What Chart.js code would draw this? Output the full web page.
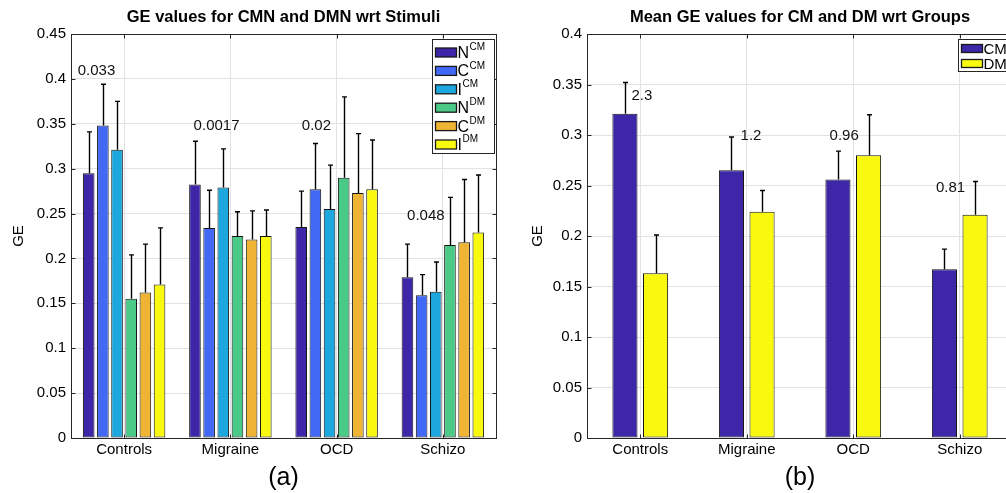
<!DOCTYPE html>
<html><head><meta charset="utf-8">
<script src="https://cdn.jsdelivr.net/npm/chart.js@4.4.1/dist/chart.umd.min.js"></script>
<style>
html,body{margin:0;padding:0;background:#fff;overflow:hidden;width:1006px;height:493px;}
#wa{position:absolute;left:0;top:0;width:500px;height:493px;}
#wb{position:absolute;left:500px;top:0;width:520px;height:493px;}
</style></head><body>
<div id="wa"><canvas id="ca" width="500" height="493"></canvas></div>
<div id="wb"><canvas id="cb" width="520" height="493"></canvas></div>
<script>
// ---------- data ----------
const groups = ['Controls', 'Migraine', 'OCD', 'Schizo'];

// (a) per-stimulus GE values and upper error magnitudes
const nCM = [0.295, 0.2825, 0.235, 0.179];
const cCM = [0.348, 0.234, 0.277, 0.159];
const iCM = [0.321, 0.279, 0.255, 0.163];
const nDM = [0.155, 0.225, 0.290, 0.215];
const cDM = [0.162, 0.221, 0.273, 0.218];
const iDM = [0.171, 0.225, 0.277, 0.229];
const nCMErr = [0.046, 0.048, 0.040, 0.037];
const cCMErr = [0.046, 0.042, 0.051, 0.023];
const iCMErr = [0.054, 0.043, 0.049, 0.033];
const nDMErr = [0.049, 0.027, 0.090, 0.053];
const cDMErr = [0.054, 0.032, 0.066, 0.070];
const iDMErr = [0.063, 0.029, 0.055, 0.064];
const stimMain = ['N', 'C', 'I', 'N', 'C', 'I'];
const stimSup = ['CM', 'CM', 'CM', 'DM', 'DM', 'DM'];
const pValuesA = ['0.033', '0.0017', '0.02', '0.048'];

// (b) mean GE values per group
const cmMean = [0.321, 0.265, 0.256, 0.167];
const dmMean = [0.163, 0.224, 0.280, 0.221];
const cmErr = [0.031, 0.033, 0.028, 0.020];
const dmErr = [0.038, 0.021, 0.040, 0.033];
const meanLabels = ['CM', 'DM'];
const ratiosB = ['2.3', '1.2', '0.96', '0.81'];

// ---------- layout / style (kept apart from data) ----------
const annoPosA = [{dx: -0.26, y: 0.4087}, {dx: -0.13, y: 0.3474}, {dx: -0.19, y: 0.3474}, {dx: -0.16, y: 0.2472}];
const annoPosB = [{dx: 0.016, y: 0.3386}, {dx: 0.04, y: 0.299}, {dx: -0.085, y: 0.299}, {dx: -0.086, y: 0.2478}];
const colorsA = ['#3e26a8', '#4268f6', '#1ca8de', '#4bc987', '#efb433', '#f9f90f'];
const colorsB = ['#3e26a8', '#f9f90f'];
const FONT = "'Liberation Sans', Arial, Helvetica, sans-serif";
const AX = '#262626';

const matlabPlugin = {
  id: 'matlab',
  afterDatasetsDraw(chart, args, opts) {
    const ctx = chart.ctx, ys = chart.scales.y;
    ctx.save();
    ctx.strokeStyle = '#000';
    ctx.lineWidth = 1.4;
    opts.errors.forEach((errs, di) => {
      const meta = chart.getDatasetMeta(di);
      const vals = chart.data.datasets[di].data;
      meta.data.forEach((el, j) => {
        const top = ys.getPixelForValue(vals[j] + errs[j]);
        const px = Math.round(el.x) + 0.5;
        ctx.beginPath();
        ctx.moveTo(px, el.y);
        ctx.lineTo(px, top);
        ctx.moveTo(px - 2.5, top);
        ctx.lineTo(px + 2.5, top);
        ctx.stroke();
      });
    });
    ctx.restore();
  },
  afterDraw(chart, args, opts) {
    const ctx = chart.ctx, a = chart.chartArea, xs = chart.scales.x, ys = chart.scales.y;
    ctx.save();
    // box
    ctx.strokeStyle = AX;
    ctx.lineWidth = 1;
    const L = Math.round(a.left) + 0.5, T = Math.round(a.top) + 0.5;
    const R = Math.round(a.right) + 0.5, B = Math.round(a.bottom) + 0.5;
    ctx.strokeRect(L, T, R - L, B - T);
    // inward ticks
    const tl = 4;
    ctx.beginPath();
    ys.ticks.forEach(t => {
      const py = Math.round(ys.getPixelForValue(t.value)) + 0.5;
      ctx.moveTo(L, py); ctx.lineTo(L + tl, py);
      ctx.moveTo(R, py); ctx.lineTo(R - tl, py);
    });
    xs.ticks.forEach((t, i) => {
      const px = Math.round(xs.getPixelForValue(i)) + 0.5;
      ctx.moveTo(px, B); ctx.lineTo(px, B - tl);
      ctx.moveTo(px, T); ctx.lineTo(px, T + tl);
    });
    ctx.stroke();
    // title
    ctx.fillStyle = '#000';
    ctx.font = 'bold 16.5px ' + FONT;
    ctx.textAlign = 'center';
    ctx.textBaseline = 'middle';
    ctx.fillText(opts.title, (a.left + a.right) / 2, 17);
    // annotations
    ctx.font = '15px ' + FONT;
    ctx.fillStyle = '#111';
    const cw = (a.right - a.left) / groups.length;
    opts.annoText.forEach((t, i) => {
      const p = opts.annoPos[i];
      ctx.fillText(t, xs.getPixelForValue(i) + p.dx * cw, ys.getPixelForValue(p.y));
    });
    // legend
    const lg = opts.legend;
    const bx = Math.round(a.right - 2 - lg.w) + 0.5, by = Math.round(a.top + 5) + 0.5;
    ctx.fillStyle = '#fff';
    ctx.fillRect(bx, by, lg.w, lg.h);
    ctx.strokeStyle = AX;
    ctx.lineWidth = 1;
    ctx.strokeRect(bx, by, lg.w, lg.h);
    ctx.textAlign = 'left';
    lg.main.forEach((m, i) => {
      const cy = by + lg.first + i * lg.row;
      ctx.fillStyle = lg.colors[i];
      ctx.fillRect(bx + 3, cy - lg.sh / 2, 21, lg.sh);
      ctx.strokeStyle = '#1a1a1a';
      ctx.lineWidth = 1.3;
      ctx.strokeRect(bx + 3, cy - lg.sh / 2, 21, lg.sh);
      ctx.fillStyle = '#000';
      ctx.font = lg.mainSize + 'px ' + FONT;
      ctx.textBaseline = 'middle';
      ctx.fillText(m, bx + 25, cy + 1);
      if (lg.sup) {
        const w = ctx.measureText(m).width;
        ctx.font = '10px ' + FONT;
        ctx.fillText(lg.sup[i], bx + 25 + w + 0.5, cy - 5);
      }
    });
    ctx.restore();
  }
};

function makeChart(id, datasets, opt) {
  return new Chart(document.getElementById(id), {
    type: 'bar',
    data: {labels: groups, datasets: datasets},
    plugins: [matlabPlugin],
    options: {
      responsive: false,
      animation: false,
      devicePixelRatio: 1,
      layout: {padding: {top: 34, left: 0, right: opt.padRight, bottom: 0}},
      datasets: {bar: {categoryPercentage: opt.cp, barPercentage: opt.bp, borderWidth: 1, borderColor: '#151515', borderSkipped: false}},
      plugins: {
        legend: {display: false},
        tooltip: {enabled: false},
        matlab: opt.matlab
      },
      scales: {
        x: {
          offset: true,
          grid: {offset: false, color: '#e2e2e2', drawTicks: false},
          border: {display: false},
          ticks: {color: '#000', font: {family: FONT, size: 15}, padding: 3, maxRotation: 0},
          title: {display: true, text: opt.sub, color: '#000', font: {family: FONT, size: 25}, padding: {top: 0, bottom: 0}},
          afterFit: s => { s.height = 55; }
        },
        y: {
          min: 0, max: opt.ymax,
          grid: {color: '#e2e2e2', drawTicks: false},
          border: {display: false},
          ticks: {stepSize: 0.05, color: '#000', font: {family: FONT, size: 15}, padding: 5,
                  callback: v => String(+v.toFixed(2))},
          title: {display: true, text: 'GE', color: '#000', font: {family: FONT, size: 15}, padding: {top: opt.gePad, bottom: 0}},
          afterFit: s => { s.width = opt.yw; }
        }
      }
    }
  });
}

const valsA = [nCM, cCM, iCM, nDM, cDM, iDM];
const errsA = [nCMErr, cCMErr, iCMErr, nDMErr, cDMErr, iDMErr];
makeChart('ca', valsA.map((d, i) => ({label: stimMain[i] + stimSup[i], data: d, backgroundColor: colorsA[i]})), {
  padRight: 4, cp: 0.8, bp: 0.82, ymax: 0.45, yw: 71, gePad: 10, sub: '(a)',
  matlab: {
    title: 'GE values for CMN and DMN wrt Stimuli',
    errors: errsA, annoText: pValuesA, annoPos: annoPosA,
    legend: {main: stimMain, sup: stimSup, colors: colorsA, w: 62, h: 114, first: 13, row: 18.4, sh: 9, mainSize: 16}
  }
});

makeChart('cb', [
  {label: meanLabels[0], data: cmMean, backgroundColor: colorsB[0]},
  {label: meanLabels[1], data: dmMean, backgroundColor: colorsB[1]}
], {
  padRight: 7, cp: 0.575, bp: 0.82, ymax: 0.4, yw: 87, gePad: 28.5, sub: '(b)',
  matlab: {
    title: 'Mean GE values for CM and DM wrt Groups',
    errors: [cmErr, dmErr], annoText: ratiosB, annoPos: annoPosB,
    legend: {main: meanLabels, sup: null, colors: colorsB, w: 53, h: 32, first: 9, row: 15, sh: 8, mainSize: 15}
  }
});
</script>
</body></html>
